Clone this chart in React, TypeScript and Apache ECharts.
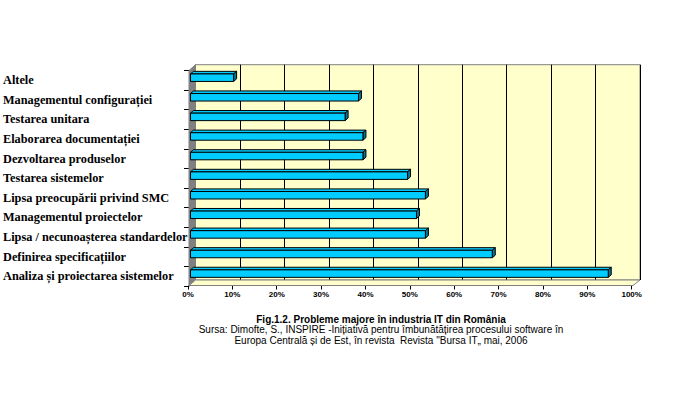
import React, { useEffect, useRef } from "react";
import * as echarts from "echarts";

const categories = [
  "Altele",
  "Managementul configurației",
  "Testarea unitara",
  "Elaborarea documentației",
  "Dezvoltarea produselor",
  "Testarea sistemelor",
  "Lipsa preocupării privind SMC",
  "Managementul proiectelor",
  "Lipsa / necunoașterea standardelor",
  "Definirea specificațiilor",
  "Analiza și proiectarea sistemelor",
];
const values = [10, 38, 35, 39, 39, 49, 53, 51, 53, 68, 94];
const xTicks = [0, 10, 20, 30, 40, 50, 60, 70, 80, 90, 100];
const captionLines = [
  "Fig.1.2. Probleme majore în industria IT din România",
  "Sursa: Dimofte, S., INSPIRE -Inițiativă pentru îmbunătățirea procesului software în",
  "Europa Centrală și de Est, în revista  Revista \"Bursa IT„ mai, 2006",
];

export default function App() {
  const ref = useRef<HTMLDivElement>(null);
  useEffect(() => {
    if (!ref.current) return;
    const chart = echarts.init(ref.current, undefined, { renderer: "svg" });
    const DX = 3;
    const DY = 2.6;
    const H = 7.5;
    const renderItem = (params: any, api: any) => {
      const idx = api.value(1);
      const v = api.value(0);
      const p0 = api.coord([0, idx]);
      const p1 = api.coord([v, idx]);
      const cy = p1[1] - 2.6;
      const x0 = p0[0] + 1.5;
      const x1 = p1[0];
      const yt = cy - H / 2;
      const yb = cy + H / 2;
      return {
        type: "group",
        children: [
          {
            type: "polygon",
            shape: { points: [[x0, yt], [x0 + DX, yt - DY], [x1 + DX, yt - DY], [x1, yt]] },
            style: { fill: "#00CCFF", stroke: "#000", lineWidth: 1 },
          },
          {
            type: "polygon",
            shape: { points: [[x1, yt], [x1 + DX, yt - DY], [x1 + DX, yb - DY], [x1, yb]] },
            style: { fill: "#007799", stroke: "#000", lineWidth: 1 },
          },
          {
            type: "rect",
            shape: { x: x0, y: yt, width: x1 - x0, height: H },
            style: { fill: "#00CCFF", stroke: "#000", lineWidth: 1 },
          },
        ],
      };
    };
    const capFont = "'Liberation Sans Narrow', 'Arial Narrow', 'Liberation Sans', sans-serif";
    chart.setOption({
      animation: false,
      backgroundColor: "#ffffff",
      title: captionLines.map((t, i) => ({
        text: t,
        left: 381,
        top: [314.5, 324.5, 335][i],
        padding: 0,
        textAlign: "center",
        textStyle: {
          fontFamily: capFont,
          fontSize: 10,
          fontWeight: i === 0 ? "bold" : "normal",
          color: "#000",
        },
      })),
      grid: [
        {
          left: 195.5,
          top: 64.7,
          width: 444.5,
          height: 215.3,
          show: true,
          backgroundColor: "#FFFFCC",
          borderColor: "#808080",
          borderWidth: 1,
        },
        { left: 189, top: 70.5, width: 446, height: 215.5 },
        { left: 188, top: 284.5, width: 443.7, height: 1 },
      ],
      xAxis: [
        {
          gridIndex: 0,
          type: "value",
          min: 0,
          max: 100,
          interval: 10,
          axisLine: { show: false },
          axisTick: { show: false },
          axisLabel: { show: false },
          splitLine: { show: true, lineStyle: { color: "#000", width: 1 } },
        },
        {
          gridIndex: 1,
          type: "value",
          min: 0,
          max: 100,
          show: false,
        },
        {
          gridIndex: 2,
          type: "value",
          min: 0,
          max: 100,
          interval: 10,
          position: "bottom",
          axisLine: { show: false },
          axisTick: { show: true, length: 4, lineStyle: { color: "#000" } },
          splitLine: { show: false },
          axisLabel: {
            formatter: (v: number) => (xTicks.includes(v) ? v + "%" : ""),
            fontFamily: "'Liberation Sans', Arial, sans-serif",
            fontWeight: "bold",
            fontSize: 8,
            color: "#000",
            margin: 5,
          },
        },
      ],
      yAxis: [
        { gridIndex: 0, type: "value", show: false },
        {
          gridIndex: 1,
          type: "category",
          inverse: true,
          data: categories,
          axisLine: { show: true, lineStyle: { color: "#000" } },
          axisTick: { show: true, length: 5, lineStyle: { color: "#000" } },
          axisLabel: {
            align: "left",
            margin: 186,
            padding: [0, 0, 8, 0],
            fontFamily: "'Liberation Serif', 'Times New Roman', serif",
            fontWeight: "bold",
            fontSize: 12.3,
            color: "#000",
          },
          splitLine: { show: false },
        },
        { gridIndex: 2, type: "value", show: false },
      ],
      graphic: [
        {
          type: "polygon",
          z: 1,
          shape: { points: [[189, 70.5], [195.5, 64.7], [195.5, 280], [189, 285.5]] },
          style: { fill: "#808080", stroke: "#808080" },
        },
        {
          type: "polygon",
          z: 1,
          shape: { points: [[189, 285.5], [195.5, 280], [640, 280], [633, 285.5]] },
          style: { fill: "#FFFFCC", stroke: "#808080", lineWidth: 1 },
        },
      ],
      series: [
        {
          type: "custom",
          xAxisIndex: 1,
          yAxisIndex: 1,
          z: 3,
          renderItem,
          encode: { x: 0, y: 1 },
          data: values.map((v, i) => [v, i]),
        },
      ],
    });
    return () => chart.dispose();
  }, []);
  return (
    <div
      ref={ref}
      style={{ position: "fixed", left: 0, top: 0, width: 676, height: 393, background: "#fff" }}
    />
  );
}
